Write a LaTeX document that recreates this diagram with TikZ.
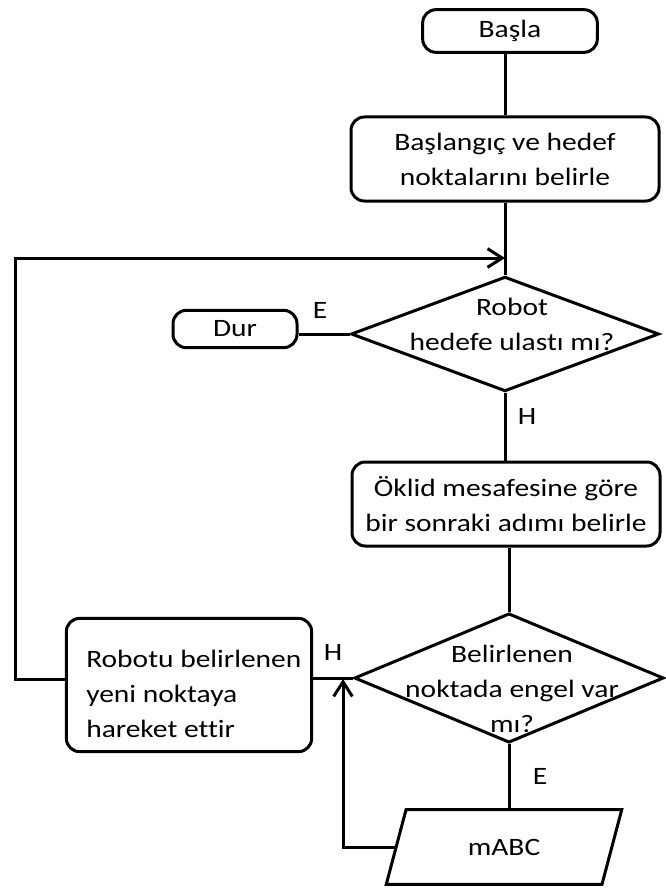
\documentclass[tikz,border=0pt]{standalone}
\usepackage{fontspec}
\setmainfont[FakeStretch=1.18, Ligatures=NoCommon]{Carlito}
\usetikzlibrary{shapes.geometric,arrows.meta}

\tikzset{
  line/.style={line width=2.25pt},
  roundbox/.style={draw, line, rounded corners=10pt, align=center, inner sep=0pt},
  decision/.style={draw, line, diamond, inner sep=0pt},
  iobox/.style={draw, line, trapezium, trapezium left angle=66, trapezium right angle=114,
    trapezium stretches=true, inner sep=0pt},
  txt/.style={align=center, inner sep=0pt},
  arrow/.style={line, -{Straight Barb[length=11pt,width=14pt]}}
}

\begin{document}
\begin{tikzpicture}[x=0.75pt, y=-0.75pt, font=\fontsize{18.75}{26.25}\selectfont]
  \useasboundingbox (0,0) rectangle (665,888);

  % Steps
  \node[roundbox, minimum width=131pt, minimum height=32pt] (start) at (510,31) {Başla};
  \node[roundbox, minimum width=231pt, minimum height=63pt] (init) at (505,159) {Başlangıç ve hedef\\noktalarını belirle};
  \node[decision, minimum width=231pt, minimum height=86pt] (check) at (505,334) {};
  \node[txt] (checktxt) at (512,324) {Robot\\hedefe ulastı mı?};
  \node[roundbox, minimum width=93pt, minimum height=28pt] (stop) at (235,329) {Dur};
  \node[roundbox, minimum width=231pt, minimum height=63pt] (okl) at (506,504) {Öklid mesafesine göre\\bir sonraki adımı belirle};
  \node[decision, minimum width=232pt, minimum height=97pt] (dec) at (509,678) {};
  \node[txt] (dectxt) at (512,689) {Belirlenen\\noktada engel var\\mı?};
  \node[roundbox, align=left, minimum width=184pt, minimum height=100pt] (move) at (189,685) {};
  \node[txt, align=left, anchor=west] (movetxt) at (86,694) {Robotu belirlenen\\yeni noktaya\\hareket ettir};
  \node[iobox, minimum width=177pt, minimum height=56pt] (mabc) at (504,847) {mABC};

  % Branch labels
  \node[txt] (e1) at (320,310) {E};
  \node[txt] (h1) at (527,416) {H};
  \node[txt] (h2) at (333,652) {H};
  \node[txt] (e2) at (540,776) {E};

  % Joints
  \coordinate (merge) at (505,258);
  \coordinate (loop) at (15,679);
  \coordinate (join) at (343,679);

  % Connectors
  \draw[line] (start.south -| init.north) -- (init.north);
  \draw[line] (init) -- (check);
  \draw[line] (check.west -| stop.east) -- (check.west);
  \draw[line] (check.south) -- (check.south |- okl.north);
  \draw[line] (okl.south -| dec.north) -- (dec.north);
  \draw[line] (dec.south) -- (dec.south |- mabc.north);
  \draw[line] (move.east |- dec.west) -- (dec.west);
  \draw[arrow] (mabc.west) -| (join);
  \draw[arrow] (move.west |- loop) -- (loop) |- (merge);
\end{tikzpicture}
\end{document}
